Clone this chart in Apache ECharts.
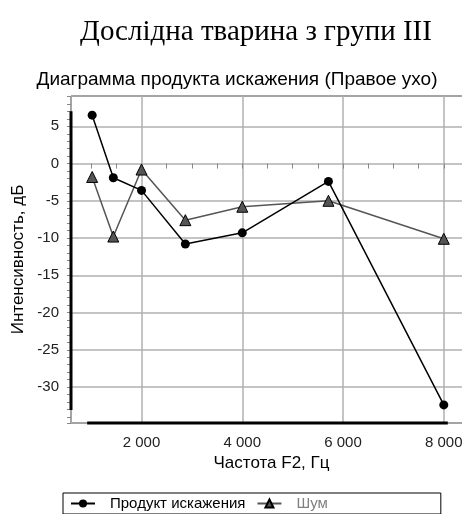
<html>
<head>
<meta charset="utf-8">
<script src="https://cdn.jsdelivr.net/npm/echarts@6/dist/echarts.min.js"></script>
<style>
  body { margin: 0; background: #fff; }
  #chart { width: 462px; height: 514px; }
</style>
</head>
<body>
<div id="chart"></div>
<script type="text/javascript">
    // частоты F2, Гц
    var freqs = [1020, 1440, 2000, 2870, 4000, 5710, 8000];
    // продукт искажения, дБ
    var product = [6.5, -1.9, -3.6, -10.8, -9.3, -2.4, -32.4];
    // шум, дБ
    var noise = [-1.8, -9.8, -0.8, -7.6, -5.8, -5.0, -10.1];

    var xMin = 600, xMax = 8560;
    var yMin = -34.83, yMax = 9.07;

    function pairs(xs, ys) {
        var out = [];
        for (var i = 0; i < xs.length; i++) out.push([xs[i], ys[i]]);
        return out;
    }
    function thousands(v) {
        return String(v).replace(/\B(?=(\d{3})+(?!\d))/g, ' ');
    }

    var myChart = echarts.init(document.getElementById('chart'));

    var options = {
        backgroundColor: '#fff',
        animation: false,
        title: [{
            text: 'Дослідна тварина з групи III',
            left: 251, textAlign: 'center', top: 13,
            textStyle: { fontFamily: 'Liberation Serif', fontSize: 29, fontWeight: 'normal', color: '#000' }
        }, {
            text: 'Диаграмма продукта искажения (Правое ухо)',
            left: 232, textAlign: 'center', top: 65,
            textStyle: { fontFamily: 'Liberation Sans', fontSize: 19, fontWeight: 'normal', color: '#000' }
        }],
        grid: {
            left: 71, top: 96, width: 401, height: 327,
            outerBoundsMode: 'none',
            show: true, borderColor: '#000', borderWidth: 1
        },
        legend: {
            left: 63, top: 493,
            padding: [3, 113, 3, 7],
            borderColor: '#000', borderWidth: 1,
            itemWidth: 24, itemHeight: 10, itemGap: 11,
            textStyle: { fontFamily: 'Liberation Sans', fontSize: 15, padding: [0, 0, 0, 10] },
            data: [
                { name: 'Продукт искажения', textStyle: { color: '#000' } },
                { name: 'Шум', textStyle: { color: '#808080' } }
            ]
        },
        xAxis: {
            type: 'value',
            min: xMin, max: xMax,
            splitNumber: 4,
            name: 'Частота F2, Гц',
            nameLocation: 'middle', nameGap: 30,
            nameTextStyle: { fontFamily: 'Liberation Sans', fontSize: 17, color: '#000' },
            axisLine: { show: false },
            axisTick: { show: true, length: 5, lineStyle: { color: '#888' } },
            minorTick: { show: true, splitNumber: 4, length: 5, lineStyle: { color: '#888' } },
            axisLabel: {
                showMinLabel: false, showMaxLabel: false, margin: 12,
                fontFamily: 'Liberation Sans', fontSize: 15, color: '#222',
                formatter: thousands
            },
            splitLine: { show: true, lineStyle: { color: '#b0b0b0', width: 1.5 } }
        },
        yAxis: {
            type: 'value',
            min: yMin, max: yMax,
            splitNumber: 9,
            name: 'Интенсивность, дБ',
            nameLocation: 'middle', nameGap: 41,
            nameTextStyle: { fontFamily: 'Liberation Sans', fontSize: 17, color: '#000' },
            axisLine: { show: false },
            axisTick: { show: true, length: 4, lineStyle: { color: '#888' } },
            minorTick: { show: true, splitNumber: 5, length: 4, lineStyle: { color: '#888' } },
            axisLabel: {
                showMinLabel: false, showMaxLabel: false, margin: 12,
                fontFamily: 'Liberation Sans', fontSize: 15, color: '#222'
            },
            splitLine: { show: true, lineStyle: { color: '#b0b0b0', width: 1.5 } }
        },
        series: [{
            name: 'Продукт искажения',
            type: 'line',
            data: pairs(freqs, product),
            symbol: 'circle', symbolSize: 9,
            itemStyle: { color: '#000' },
            lineStyle: { color: '#000', width: 1.5 },
            z: 4
        }, {
            name: 'Шум',
            type: 'line',
            data: pairs(freqs, noise),
            symbol: 'triangle', symbolSize: 11,
            itemStyle: { color: '#555', borderColor: '#000', borderWidth: 1 },
            lineStyle: { color: '#555', width: 1.5 },
            z: 3
        }]
    };

    myChart.setOption(options);

    // толстые линии осей по диапазону данных
    var allY = product.concat(noise);
    var xa = myChart.convertToPixel({ xAxisIndex: 0 }, Math.min.apply(null, freqs));
    var xb = myChart.convertToPixel({ xAxisIndex: 0 }, Math.max.apply(null, freqs));
    var ya = myChart.convertToPixel({ yAxisIndex: 0 }, Math.max.apply(null, allY));
    var yb = myChart.convertToPixel({ yAxisIndex: 0 }, Math.min.apply(null, allY));
    var gx = 71, gy = 423;
    myChart.setOption({
        graphic: [{
            type: 'line', z: 10,
            shape: { x1: gx, y1: ya - 4, x2: gx, y2: yb + 5 },
            style: { stroke: '#000', lineWidth: 3 }
        }, {
            type: 'line', z: 10,
            shape: { x1: xa - 5, y1: gy, x2: xb + 4, y2: gy },
            style: { stroke: '#000', lineWidth: 3 }
        }]
    });
</script>
</body>
</html>
